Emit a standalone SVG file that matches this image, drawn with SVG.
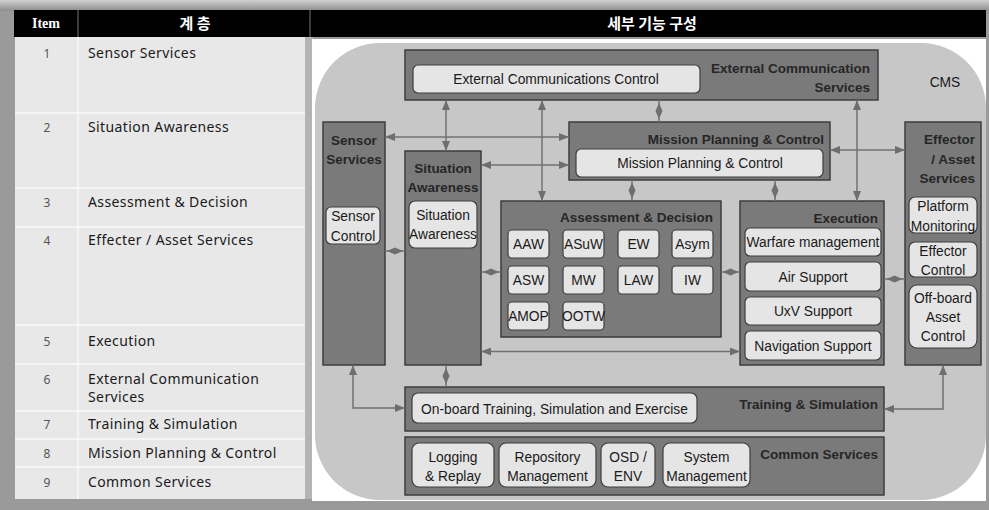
<svg xmlns="http://www.w3.org/2000/svg" width="989" height="510" viewBox="0 0 989 510">
<style>
.tbl{font-family:"Noto Sans","Noto Sans CJK KR",sans-serif;font-size:14px;fill:#1a1a1a;letter-spacing:0.4px}
.num{font-family:"Noto Sans",sans-serif;font-size:12px;fill:#555;text-anchor:middle}
.hdr{font-family:"Noto Sans CJK KR","Noto Sans",sans-serif;font-size:15px;font-weight:bold;fill:#fff;text-anchor:middle}
.blk{fill:#7a7a7a;stroke:#3e3e3e;stroke-width:1.5}
.inb{fill:#e5e5e5;stroke:#3e3e3e;stroke-width:1.2}
.t{font-family:"Liberation Sans",Arial,sans-serif;font-size:13.8px;fill:#1a1a1a;text-anchor:middle}
.ttl{font-family:"Liberation Sans",Arial,sans-serif;font-size:13.5px;font-weight:bold;fill:#262626}
.r{text-anchor:end}
.c{text-anchor:middle}
.ln{fill:none;stroke:#727272;stroke-width:1.5}
</style>
<defs>
<linearGradient id="topg" x1="0" y1="0" x2="0" y2="1">
<stop offset="0" stop-color="#d0d0d0"/><stop offset="1" stop-color="#8c8c8c"/>
</linearGradient>
<marker id="arr" markerUnits="userSpaceOnUse" markerWidth="11" markerHeight="8" refX="10" refY="4" orient="auto-start-reverse"><path d="M0,0 L10,4 L0,8 z" fill="#6e6e6e"/></marker>
<marker id="dia" markerUnits="userSpaceOnUse" markerWidth="16" markerHeight="8" refX="8" refY="4" orient="auto"><path d="M0,4 L8,0.5 L16,4 L8,7.5 z" fill="#6e6e6e"/></marker>
</defs>

<!-- frame -->
<rect x="0" y="0" width="989" height="510" fill="#9a9a9a"/>
<rect x="0" y="0" width="989" height="11" fill="url(#topg)"/>

<!-- header -->
<g id="header">
<rect x="14" y="10" width="972" height="27" fill="#000"/>
<line x1="78" y1="10" x2="78" y2="37" stroke="#777" stroke-width="1"/>
<line x1="310" y1="10" x2="310" y2="37" stroke="#777" stroke-width="1"/>
<text x="46" y="28" style="font-family:'Liberation Serif',serif;font-size:14px;font-weight:bold;fill:#fff;text-anchor:middle">Item</text>
<text class="hdr" x="195" y="29">계 층</text>
<text class="hdr" x="652" y="29">세부 기능 구성</text>
</g>

<!-- table -->
<g id="table">
<rect x="15" y="37" width="291" height="462" fill="#e8e8e8"/>
<rect x="305" y="37" width="8" height="462" fill="#b4b4b4"/>
<g stroke="#fafafa" stroke-width="1.5">
<line x1="78" y1="37" x2="78" y2="499"/>
<line x1="15" y1="113" x2="305" y2="113"/>
<line x1="15" y1="188" x2="305" y2="188"/>
<line x1="15" y1="227" x2="305" y2="227"/>
<line x1="15" y1="325" x2="305" y2="325"/>
<line x1="15" y1="364" x2="305" y2="364"/>
<line x1="15" y1="411" x2="305" y2="411"/>
<line x1="15" y1="439" x2="305" y2="439"/>
<line x1="15" y1="467" x2="305" y2="467"/>
</g>
<text class="num" x="47" y="58">1</text><text class="tbl" x="88" y="58">Sensor Services</text>
<text class="num" x="47" y="132">2</text><text class="tbl" x="88" y="132">Situation Awareness</text>
<text class="num" x="47" y="207">3</text><text class="tbl" x="88" y="207">Assessment &amp; Decision</text>
<text class="num" x="47" y="245">4</text><text class="tbl" x="88" y="245">Effecter / Asset Services</text>
<text class="num" x="47" y="346">5</text><text class="tbl" x="88" y="346">Execution</text>
<text class="num" x="47" y="384">6</text><text class="tbl" x="88" y="384">External Communication</text><text class="tbl" x="88" y="402">Services</text>
<text class="num" x="47" y="429">7</text><text class="tbl" x="88" y="429">Training &amp; Simulation</text>
<text class="num" x="47" y="458">8</text><text class="tbl" x="88" y="458">Mission Planning &amp; Control</text>
<text class="num" x="47" y="487">9</text><text class="tbl" x="88" y="487">Common Services</text>
</g>

<!-- diagram area -->
<rect x="312" y="39" width="674" height="462" fill="#fff"/>
<g id="cms">
<rect x="315" y="43" width="671" height="457" rx="65" ry="65" fill="#c7c7c7"/>
<text class="t" x="945" y="87">CMS</text>
</g>

<g id="ext-comm">
<rect class="blk" x="405" y="50" width="473" height="50"/>
<rect class="inb" x="413" y="65" width="287" height="28" rx="5"/>
<text class="t" x="556" y="84">External Communications Control</text>
<text class="ttl r" x="870" y="73">External Communication</text>
<text class="ttl r" x="870" y="92">Services</text>
</g>

<g id="sensor">
<rect class="blk" x="323" y="122" width="62" height="243"/>
<text class="ttl c" x="354" y="145">Sensor</text>
<text class="ttl c" x="354" y="164">Services</text>
<rect class="inb" x="326" y="207" width="54" height="37" rx="5"/>
<text class="t" x="353" y="221">Sensor</text>
<text class="t" x="353" y="241">Control</text>
</g>

<g id="situation">
<rect class="blk" x="405" y="151" width="76" height="214"/>
<text class="ttl c" x="443" y="173">Situation</text>
<text class="ttl c" x="443" y="192">Awareness</text>
<rect class="inb" x="409" y="201" width="68" height="47" rx="6"/>
<text class="t" x="443" y="220">Situation</text>
<text class="t" x="443" y="239">Awareness</text>
</g>

<g id="mission">
<rect class="blk" x="569" y="122" width="261" height="58"/>
<text class="ttl r" x="824" y="144">Mission Planning &amp; Control</text>
<rect class="inb" x="576" y="149" width="247" height="28" rx="5"/>
<text class="t" x="700" y="168">Mission Planning &amp; Control</text>
</g>

<g id="assessment">
<rect class="blk" x="501" y="201" width="220" height="136"/>
<text class="ttl r" x="713" y="222">Assessment &amp; Decision</text>
<rect class="inb" x="508" y="230" width="41" height="28" rx="4"/><text class="t" x="528.5" y="249">AAW</text>
<rect class="inb" x="563" y="230" width="41" height="28" rx="4"/><text class="t" x="583.5" y="249">ASuW</text>
<rect class="inb" x="618" y="230" width="41" height="28" rx="4"/><text class="t" x="638.5" y="249">EW</text>
<rect class="inb" x="672" y="230" width="41" height="28" rx="4"/><text class="t" x="692.5" y="249">Asym</text>
<rect class="inb" x="508" y="266" width="41" height="28" rx="4"/><text class="t" x="528.5" y="285">ASW</text>
<rect class="inb" x="563" y="266" width="41" height="28" rx="4"/><text class="t" x="583.5" y="285">MW</text>
<rect class="inb" x="618" y="266" width="41" height="28" rx="4"/><text class="t" x="638.5" y="285">LAW</text>
<rect class="inb" x="672" y="266" width="41" height="28" rx="4"/><text class="t" x="692.5" y="285">IW</text>
<rect class="inb" x="508" y="302" width="41" height="28" rx="4"/><text class="t" x="528.5" y="321">AMOP</text>
<rect class="inb" x="563" y="302" width="41" height="28" rx="4"/><text class="t" x="583.5" y="321">OOTW</text>
</g>

<g id="execution">
<rect class="blk" x="740" y="201" width="144" height="164"/>
<text class="ttl r" x="878" y="223">Execution</text>
<rect class="inb" x="745" y="228" width="136" height="28" rx="5"/><text class="t" x="813" y="247">Warfare management</text>
<rect class="inb" x="745" y="262" width="136" height="29" rx="5"/><text class="t" x="813" y="281.5">Air Support</text>
<rect class="inb" x="745" y="297" width="136" height="28" rx="5"/><text class="t" x="813" y="316">UxV Support</text>
<rect class="inb" x="745" y="331" width="136" height="29" rx="5"/><text class="t" x="813" y="350.5">Navigation Support</text>
</g>

<g id="effector">
<rect class="blk" x="905" y="122" width="76" height="243"/>
<text class="ttl r" x="975" y="144">Effector</text>
<text class="ttl r" x="975" y="164">/ Asset</text>
<text class="ttl r" x="975" y="183">Services</text>
<rect class="inb" x="909" y="197" width="68" height="36" rx="6"/>
<text class="t" x="943" y="211">Platform</text>
<text class="t" x="943" y="231">Monitoring</text>
<rect class="inb" x="909" y="242" width="68" height="35" rx="6"/>
<text class="t" x="943" y="256">Effector</text>
<text class="t" x="943" y="275">Control</text>
<rect class="inb" x="909" y="285" width="68" height="63" rx="8"/>
<text class="t" x="943" y="303">Off-board</text>
<text class="t" x="943" y="322">Asset</text>
<text class="t" x="943" y="341">Control</text>
</g>

<g id="training">
<rect class="blk" x="405" y="387" width="479" height="44"/>
<rect class="inb" x="412" y="393" width="285" height="30" rx="6"/>
<text class="t" x="554.5" y="414">On-board Training, Simulation and Exercise</text>
<text class="ttl r" x="878" y="409">Training &amp; Simulation</text>
</g>

<g id="common">
<rect class="blk" x="405" y="437" width="479" height="58"/>
<text class="ttl r" x="878" y="459">Common Services</text>
<rect class="inb" x="412" y="443" width="82" height="44" rx="7"/>
<text class="t" x="453" y="462">Logging</text><text class="t" x="453" y="481">&amp; Replay</text>
<rect class="inb" x="499" y="443" width="97" height="44" rx="7"/>
<text class="t" x="547.5" y="462">Repository</text><text class="t" x="547.5" y="481">Management</text>
<rect class="inb" x="601" y="443" width="54" height="44" rx="7"/>
<text class="t" x="628" y="462">OSD /</text><text class="t" x="628" y="481">ENV</text>
<rect class="inb" x="663" y="443" width="87" height="44" rx="7"/>
<text class="t" x="706.5" y="462">System</text><text class="t" x="706.5" y="481">Management</text>
</g>

<g id="connectors">
<path class="ln" d="M385,137 H569" marker-start="url(#arr)" marker-end="url(#arr)"/>
<path class="ln" d="M446,100 V151" marker-start="url(#arr)" marker-end="url(#arr)"/>
<path class="ln" d="M481,165 H569" marker-start="url(#arr)" marker-end="url(#arr)"/>
<path class="ln" d="M542,100 V201" marker-start="url(#arr)" marker-end="url(#arr)"/>
<path class="ln" d="M857,100 V201" marker-start="url(#arr)" marker-end="url(#arr)"/>
<path class="ln" d="M830,150 H905" marker-start="url(#arr)" marker-end="url(#arr)"/>
<path class="ln" d="M481,351.5 H740" marker-start="url(#arr)" marker-end="url(#arr)"/>
<path class="ln" d="M353,365 V408 H405" marker-start="url(#arr)" marker-end="url(#arr)"/>
<path class="ln" d="M943,365 V409 H884" marker-start="url(#arr)" marker-end="url(#arr)"/>
<path class="ln" d="M659,100 V111 V122" marker-mid="url(#dia)"/>
<path class="ln" d="M632,180 V190.5 V201" marker-mid="url(#dia)"/>
<path class="ln" d="M775,180 V190.5 V201" marker-mid="url(#dia)"/>
<path class="ln" d="M385,251 H395 H405" marker-mid="url(#dia)"/>
<path class="ln" d="M481,272 H491 H501" marker-mid="url(#dia)"/>
<path class="ln" d="M721,272 H730.5 H740" marker-mid="url(#dia)"/>
<path class="ln" d="M884,279 H894.5 H905" marker-mid="url(#dia)"/>
<path class="ln" d="M446,365 V376 V387" marker-mid="url(#dia)"/>
</g>
</svg>
